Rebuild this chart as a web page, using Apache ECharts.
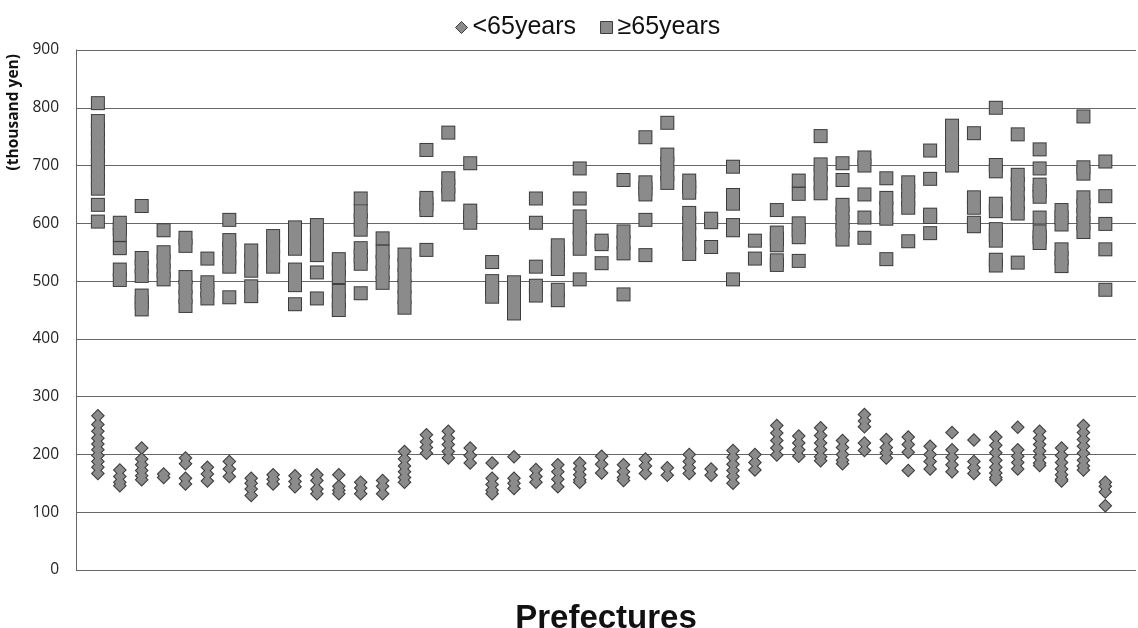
<!DOCTYPE html>
<html>
<head>
<meta charset="utf-8">
<script src="https://cdn.jsdelivr.net/npm/echarts@6/dist/echarts.min.js"></script>
<style>html,body{margin:0;padding:0;background:#fff;}#c{width:1138px;height:628px;}</style>
</head>
<body>
<div id="c"></div>
<script>
// Prefecture index (1..47)
const prefectures = [1,2,3,4,5,6,7,8,9,10,11,12,13,14,15,16,17,18,19,20,21,22,23,24,25,26,27,28,29,30,31,32,33,34,35,36,37,38,39,40,41,42,43,44,45,46,47];
const yTicks = [0,100,200,300,400,500,600,700,800,900];
const seriesNames = ['<65years', '≥65years'];

// <65 years values per prefecture (thousand yen)
const under65 = [
  [267,252,240,228,218,208,198,188,178,167],
  [173,162,152,146],
  [211,192,182,172,163,156],
  [166,160],
  [194,184,159,149],
  [178,166,154],
  [188,175,162],
  [159,150,140,129],
  [165,157,149],
  [163,153,144],
  [165,155,140,132],
  [165,145,138,132],
  [152,142,132],
  [155,145,132],
  [205,192,180,170,160,152],
  [234,222,212,202],
  [240,228,217,205,194],
  [211,198,185],
  [185,159,148,138,132],
  [196,159,150,141],
  [174,162,152],
  [182,170,157,144],
  [185,175,165,156,152],
  [197,183,168],
  [182,170,160,155],
  [192,180,167],
  [177,164],
  [200,188,177,167],
  [175,164],
  [207,195,183,172,162,150],
  [200,186,173],
  [250,237,224,211,199],
  [232,220,208,197],
  [246,233,220,208,196,189],
  [224,212,200,190,184],
  [269,258,248,220,207],
  [226,212,203,194],
  [230,217,204,172],
  [214,200,188,175],
  [238,208,195,182,170],
  [225,188,177,167],
  [230,216,203,190,178,168,160,156],
  [247,208,197,186,175],
  [240,228,217,206,195,185,181],
  [211,198,186,175,165,157,154],
  [250,238,226,214,202,190,180,173],
  [152,145,135,111]
];

// >=65 years values per prefecture (thousand yen)
const over65 = [
  [808,777,762,747,732,717,702,688,674,660,632,603],
  [601,590,580,557,520,502],
  [630,540,525,509,475,463,451],
  [588,550,534,518,503],
  [575,561,507,490,473,457],
  [539,498,484,470],
  [606,571,556,540,525,472],
  [553,535,518,491,474],
  [578,560,543,525],
  [593,575,556,520,506,493,460],
  [597,580,562,545,515,470],
  [538,522,507,483,466,450],
  [643,621,605,589,557,543,530,479],
  [574,551,533,515,497],
  [546,528,510,491,472,454],
  [727,644,633,623,554],
  [757,678,664,650],
  [704,622,611,601],
  [533,500,486,473],
  [498,480,462,444],
  [643,601,525,492,475],
  [562,548,535,521,485,467],
  [695,643,612,593,575,556,503],
  [570,564,531],
  [675,586,567,548,477],
  [749,671,660,650,606,545],
  [774,719,703,686,670],
  [674,663,653,618,600,582,565,547],
  [608,602,559],
  [698,649,634,597,588,503],
  [570,539],
  [623,584,573,562,536,528],
  [674,651,600,588,576,535],
  [751,702,685,669,652],
  [704,675,632,617,602,587,572],
  [714,700,650,610,575],
  [678,644,626,608,538],
  [671,656,642,627,569],
  [726,677,615,611,583],
  [769,752,735,717,700],
  [756,645,627,601,595],
  [800,701,690,634,621,590,580,570,537,527],
  [754,684,668,651,634,617,532],
  [728,695,667,656,646,610,586,576,566],
  [623,610,598,555,540,526],
  [785,697,686,645,630,615,600,585],
  [707,647,599,555,485]
];

function toPoints(groups) {
  const pts = [];
  groups.forEach((vals, i) => vals.forEach(v => pts.push([prefectures[i], v])));
  return pts;
}
const ptsU = toPoints(under65);
const ptsO = toPoints(over65);

const FILL = '#8b8b8b';
const EDGE = '#3c3c3c';

const chart = echarts.init(document.getElementById('c'), null, {renderer: 'canvas'});
chart.setOption({
  animation: false,
  backgroundColor: '#ffffff',
  grid: {left: 76, top: 50, right: 2, bottom: 58, containLabel: false, outerBoundsMode: 'none'},
  legend: {
    left: 450, top: 10,
    itemGap: 24, itemWidth: 12, itemHeight: 12,
    textStyle: {fontFamily: 'Liberation Sans, Arial, sans-serif', fontSize: 25, color: '#111'},
    data: [
      {name: seriesNames[0], icon: 'diamond', itemStyle: {color: FILL, borderColor: EDGE, borderWidth: 1}},
      {name: seriesNames[1], icon: 'rect', itemStyle: {color: FILL, borderColor: EDGE, borderWidth: 1}}
    ]
  },
  xAxis: {
    type: 'value', min: 0, max: 48.4,
    axisLine: {show: false}, axisTick: {show: false}, axisLabel: {show: false},
    splitLine: {show: false},
    name: 'Prefectures', nameLocation: 'middle', nameGap: 32,
    nameTextStyle: {fontFamily: 'Liberation Sans, Arial, sans-serif', fontSize: 33, fontWeight: 'bold', color: '#111'}
  },
  yAxis: {
    type: 'value', min: yTicks[0], max: yTicks[yTicks.length - 1], interval: 100,
    axisLine: {show: true, lineStyle: {color: '#666', width: 1}},
    axisTick: {show: false},
    axisLabel: {margin: 17, fontFamily: 'Open Sans, sans-serif', fontSize: 15.5, color: '#222'},
    splitLine: {show: true, lineStyle: {color: '#666', width: 1}}
  },
  graphic: [{
    type: 'text', left: 6, top: 54,
    rotation: Math.PI / 2,
    style: {text: '(thousand yen)', fontFamily: 'Open Sans, sans-serif', fontSize: 15.5, fontWeight: 'bold', fill: '#111'}
  }],
  series: [
    {name: 'edgeU', type: 'scatter', symbol: 'diamond', symbolSize: [14, 14], data: ptsU,
      itemStyle: {color: EDGE, opacity: 1}, silent: true, z: 2},
    {name: 'edgeO', type: 'scatter', symbol: 'rect', symbolSize: [14, 14], data: ptsO,
      itemStyle: {color: EDGE, opacity: 1}, silent: true, z: 2},
    {name: seriesNames[0], type: 'scatter', symbol: 'diamond', symbolSize: [11, 11], data: ptsU,
      itemStyle: {color: FILL, opacity: 1}, z: 3},
    {name: seriesNames[1], type: 'scatter', symbol: 'rect', symbolSize: [12, 12], data: ptsO,
      itemStyle: {color: FILL, opacity: 1}, z: 3}
  ]
});
</script>
</body>
</html>
